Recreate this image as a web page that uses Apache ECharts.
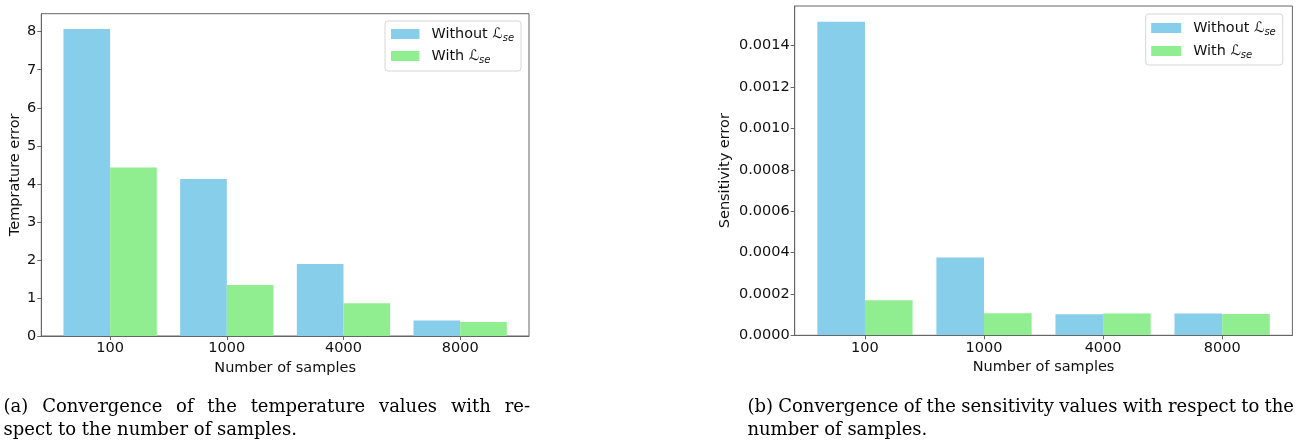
<!DOCTYPE html>
<html>
<head>
<meta charset="utf-8">
<script src="https://cdn.jsdelivr.net/npm/echarts@6/dist/echarts.min.js"></script>
<style>
  html, body { margin: 0; padding: 0; background: #fff; }
  #chart { width: 1304px; height: 443px; }
</style>
</head>
<body>
<div id="chart"></div>
<script>
// Sample counts on the x axis, shared by both panels
const categories = ['100', '1000', '4000', '8000'];
const seriesNames = ['Without', 'With'];

// Panel (a): temperature error
const tempWithout = [8.07, 4.13, 1.89, 0.41];
const tempWith = [4.43, 1.34, 0.86, 0.37];
const tempTicks = [0, 1, 2, 3, 4, 5, 6, 7, 8];

// Panel (b): sensitivity error
const sensWithout = [0.001516, 0.000376, 0.000102, 0.000105];
const sensWith = [0.000169, 0.000107, 0.000105, 0.000103];
const sensTicks = [0, 0.0002, 0.0004, 0.0006, 0.0008, 0.0010, 0.0012, 0.0014];

const captionA = ['(a) Convergence of the temperature values with re-', 'spect to the number of samples.'];
const captionB = ['(b) Convergence of the sensitivity values with respect to the', 'number of samples.'];

const BLUE = '#87CEEB';
const GREEN = '#90EE90';
const SPINE = '#666';
const INK = '#111';
const SANS = '"DejaVu Sans", sans-serif';
const CAPTION_FONT = '18px "DejaVu Serif", serif';

// bars are 0.4 wide, side by side around each index; 5% padding on each end
const half = 0.4;
const span = (categories.length - 1) + 2 * half;
const xMin = -half - 0.05 * span;
const xMax = (categories.length - 1) + half + 0.05 * span;
const catIdx = categories.map((_, i) => i);

const toPairs = arr => arr.map((v, i) => [i, v]);

function legendLabel(name) {
  return '{t|' + name + ' }{L|\u2112}{s|se}';
}

const legendRich = {
  t: { fontFamily: SANS, fontSize: 14.4, color: INK, lineHeight: 18, verticalAlign: 'middle' },
  L: { fontFamily: SANS, fontSize: 14.4, color: INK, lineHeight: 18, fontStyle: 'italic', verticalAlign: 'middle' },
  s: { fontFamily: SANS, fontSize: 10, color: INK, lineHeight: 9, fontStyle: 'italic', verticalAlign: 'bottom' }
};

function xAxisFor(gridIndex) {
  return {
    type: 'value', gridIndex, min: xMin, max: xMax,
    name: 'Number of samples', nameLocation: 'middle', nameGap: 22,
    nameTextStyle: { fontFamily: SANS, fontSize: 14.5, color: INK },
    axisLine: { show: true, onZero: false, lineStyle: { color: SPINE, width: 1 } },
    axisTick: { show: true, inside: false, length: 4, customValues: catIdx, lineStyle: { color: SPINE } },
    axisLabel: {
      customValues: catIdx, margin: 5,
      fontFamily: SANS, fontSize: 14.5, color: INK,
      formatter: v => categories[Math.round(v)]
    },
    splitLine: { show: false },
    z: 3
  };
}

function yAxisFor(gridIndex, max, ticks, name, nameGap, fmt) {
  return {
    type: 'value', gridIndex, min: 0, max,
    name, nameLocation: 'middle', nameGap,
    nameTextStyle: { fontFamily: SANS, fontSize: 14.5, color: INK },
    axisLine: { show: true, onZero: false, lineStyle: { color: SPINE, width: 1 } },
    axisTick: { show: true, inside: false, length: 4, customValues: ticks, lineStyle: { color: SPINE } },
    axisLabel: { customValues: ticks, margin: 5, fontFamily: SANS, fontSize: 14.5, color: INK, formatter: fmt },
    splitLine: { show: false },
    z: 3
  };
}

function barSeries(name, data, color, axisIndex) {
  return {
    type: 'bar', name, data: toPairs(data),
    xAxisIndex: axisIndex, yAxisIndex: axisIndex,
    barWidth: '40%', barGap: '0%',
    itemStyle: { color },
    emphasis: { disabled: true }
  };
}

function legendFor(left, top, padding, itemWidth, itemGap) {
  return {
    orient: 'vertical', left, top, padding,
    itemWidth, itemHeight: 10, itemGap,
    icon: 'rect',
    data: seriesNames,
    formatter: legendLabel,
    textStyle: { rich: legendRich, padding: [0, 0, 0, 7] },
    borderColor: '#d6d6d6', borderWidth: 1, borderRadius: 3,
    backgroundColor: 'rgba(255,255,255,0.8)',
    selectedMode: false
  };
}

// Caption lines: the first line of each paragraph is justified to the column width
const measureCtx = document.createElement('canvas').getContext('2d');
measureCtx.font = CAPTION_FONT;

function justified(line, width) {
  const words = line.split(' ');
  const used = words.reduce((s, w) => s + measureCtx.measureText(w).width, 0);
  const gap = (width - used) / (words.length - 1);
  return {
    text: words.join('{g| }'),
    rich: { g: { width: gap, font: CAPTION_FONT } }
  };
}

function captionText(lines, x, y0, dy, width) {
  return lines.map((t, i) => {
    const style = { text: t, font: CAPTION_FONT, fill: '#000', align: 'left', verticalAlign: 'middle' };
    if (i === 0) Object.assign(style, justified(t, width));
    return { type: 'text', x, y: y0 + i * dy, silent: true, style };
  });
}

const tempMax = Math.max(...tempWithout, ...tempWith) * 1.05;
const sensMax = Math.max(...sensWithout, ...sensWith) * 1.05;

const chart = echarts.init(document.getElementById('chart'), null, { renderer: 'canvas' });
chart.setOption({
  animation: false,
  backgroundColor: '#fff',
  grid: [
    { left: 41.3, top: 13.7, width: 487.7, height: 322.3, show: true, borderColor: SPINE, borderWidth: 1, backgroundColor: 'transparent', containLabel: false },
    { left: 794.7, top: 6, width: 497.7, height: 329.3, show: true, borderColor: SPINE, borderWidth: 1, backgroundColor: 'transparent', containLabel: false }
  ],
  xAxis: [xAxisFor(0), xAxisFor(1)],
  yAxis: [
    yAxisFor(0, tempMax, tempTicks, 'Temprature error', 18, v => String(v)),
    yAxisFor(1, sensMax, sensTicks, 'Sensitivity error', 62, v => v.toFixed(4))
  ],
  legend: [
    legendFor(385, 21, [6, 7, 6, 6], 28.5, 6),
    legendFor(1145.7, 14, [7, 7, 5, 5.5], 30, 7)
  ],
  series: [
    barSeries(seriesNames[0], tempWithout, BLUE, 0),
    barSeries(seriesNames[1], tempWith, GREEN, 0),
    barSeries(seriesNames[0], sensWithout, BLUE, 1),
    barSeries(seriesNames[1], sensWith, GREEN, 1)
  ],
  graphic: [
    ...captionText(captionA, 3.6, 407.5, 23.3, 526.4),
    ...captionText(captionB, 747.4, 407.5, 23.3, 546.6)
  ]
});
</script>
</body>
</html>
